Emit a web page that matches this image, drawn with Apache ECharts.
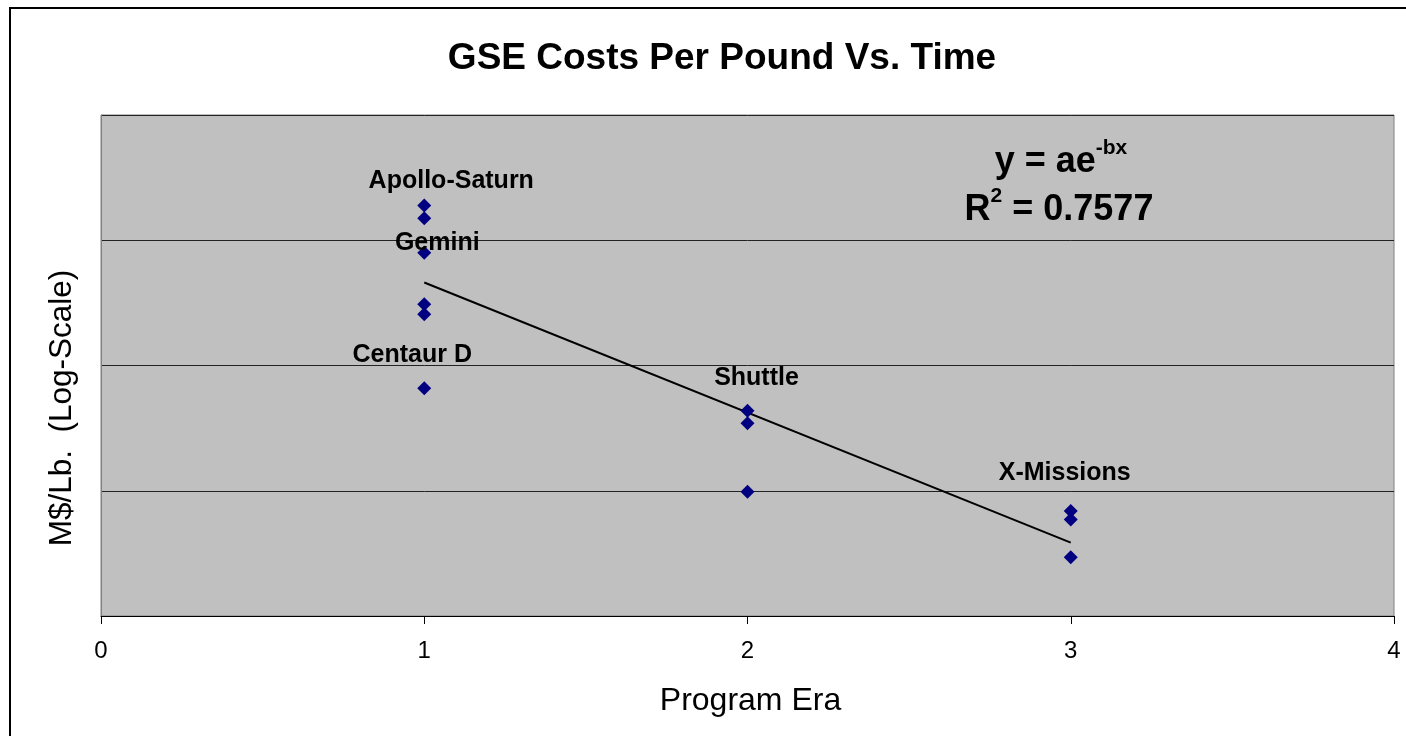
<!DOCTYPE html>
<html>
<head>
<meta charset="utf-8">
<title>GSE Costs Per Pound Vs. Time</title>
<script src="https://cdn.jsdelivr.net/npm/echarts@6/dist/echarts.min.js"></script>
<style>
  html, body { margin: 0; padding: 0; background: #fff; }
  #chart { width: 1406px; height: 736px; }
</style>
</head>
<body>
<div id="chart"></div>
<script>
// Program era (x) and GSE cost per pound in M$/lb (y, log scale)
const era = [1, 1, 1, 1, 1, 1, 2, 2, 2, 3, 3, 3];
const costPerLb = [1.89, 1.50, 0.796, 0.308, 0.256, 0.0658, 0.0436, 0.0346, 0.0098, 0.0069, 0.0059, 0.00294];
const pointLabels = ['Apollo-Saturn', '', 'Gemini', '', '', 'Centaur D', 'Shuttle', '', '', 'X-Missions', '', ''];

// Exponential trendline end points (a straight line on the log axis)
const trendEra = [1, 3];
const trendCost = [0.46, 0.00385];

const xTicks = [0, 1, 2, 3, 4];
const equationText = ['y = ae', '-bx'];
const rSquaredText = ['R', '2', ' = 0.7577'];
const yAxisTitle = 'M$/Lb.  (Log-Scale)';

// Label placement relative to the point it names (pixels)
const labelOffsets = {
  'Apollo-Saturn': [27, -25],
  'Gemini': [13, -10],
  'Centaur D': [-12, -33],
  'Shuttle': [9, -33],
  'X-Missions': [-6, -38]
};

const FONT = '"Liberation Sans", Arial, Helvetica, sans-serif';

const scatterData = era.map((x, i) => {
  const name = pointLabels[i];
  const item = { value: [x, costPerLb[i]] };
  if (name) {
    item.name = name;
    item.label = {
      show: true,
      formatter: name,
      position: 'inside',
      align: 'center',
      verticalAlign: 'middle',
      offset: labelOffsets[name],
      fontFamily: FONT,
      fontWeight: 'bold',
      fontSize: 25,
      color: '#000'
    };
  }
  return item;
});

const eqRich = {
  b: { fontFamily: FONT, fontWeight: 'bold', fontSize: 36, color: '#000', verticalAlign: 'bottom', lineHeight: 42 },
  s: { fontFamily: FONT, fontWeight: 'bold', fontSize: 21, color: '#000', verticalAlign: 'top', lineHeight: 42, padding: [0, 0, 20, 0] }
};

const chart = echarts.init(document.getElementById('chart'));

chart.setOption({
  animation: false,
  backgroundColor: '#ffffff',
  title: {
    text: 'GSE Costs Per Pound Vs. Time',
    left: 717,
    top: 35,
    textAlign: 'center',
    textStyle: { fontFamily: FONT, fontWeight: 'bold', fontSize: 37, color: '#000' }
  },
  grid: {
    left: 101, right: 12, top: 115, bottom: 120,
    show: true,
    backgroundColor: '#c0c0c0',
    borderColor: '#808080',
    borderWidth: 1
  },
  xAxis: {
    type: 'value',
    min: xTicks[0],
    max: xTicks[xTicks.length - 1],
    interval: 1,
    name: 'Program Era',
    nameLocation: 'middle',
    nameGap: 69,
    nameTextStyle: { fontFamily: FONT, fontSize: 32, color: '#000', padding: [0, 0, 0, 6] },
    axisLine: { show: true, lineStyle: { color: '#000', width: 1 } },
    axisTick: { show: true, length: 8, lineStyle: { color: '#000' } },
    axisLabel: { fontFamily: FONT, fontSize: 24, color: '#000', margin: 23 },
    splitLine: { show: false }
  },
  yAxis: {
    type: 'log',
    logBase: 10,
    min: 0.001,
    max: 10,
    axisLine: { show: true, lineStyle: { color: '#808080', width: 1 } },
    axisTick: { show: false },
    axisLabel: { show: false },
    splitLine: { show: true, lineStyle: { color: '#222', width: 1 } }
  },
  series: [
    {
      name: 'Trend',
      type: 'line',
      data: trendEra.map((x, i) => [x, trendCost[i]]),
      showSymbol: false,
      symbol: 'none',
      lineStyle: { color: '#000', width: 2 },
      z: 3,
      silent: true
    },
    {
      name: 'GSE cost',
      type: 'scatter',
      symbol: 'diamond',
      symbolSize: 14,
      itemStyle: { color: '#000080', opacity: 1 },
      data: scatterData,
      z: 4
    }
  ],
  graphic: [
    {
      type: 'rect',
      shape: { x: 10, y: 8, width: 1420, height: 760 },
      style: { fill: 'none', stroke: '#000', lineWidth: 2 },
      silent: true,
      z: 100
    },
    {
      type: 'text',
      x: 62,
      y: 408,
      rotation: Math.PI / 2,
      style: {
        text: yAxisTitle,
        align: 'center',
        verticalAlign: 'middle',
        fontFamily: FONT,
        fontSize: 31.5,
        fill: '#000'
      },
      z: 50
    },
    {
      type: 'text',
      x: 1061,
      y: 159,
      style: {
        text: '{b|' + equationText[0] + '}{s|' + equationText[1] + '}',
        align: 'center',
        verticalAlign: 'middle',
        rich: eqRich
      },
      z: 50
    },
    {
      type: 'text',
      x: 1059,
      y: 207,
      style: {
        text: '{b|' + rSquaredText[0] + '}{s|' + rSquaredText[1] + '}{b|' + rSquaredText[2] + '}',
        align: 'center',
        verticalAlign: 'middle',
        rich: eqRich
      },
      z: 50
    }
  ]
});
</script>
</body>
</html>
